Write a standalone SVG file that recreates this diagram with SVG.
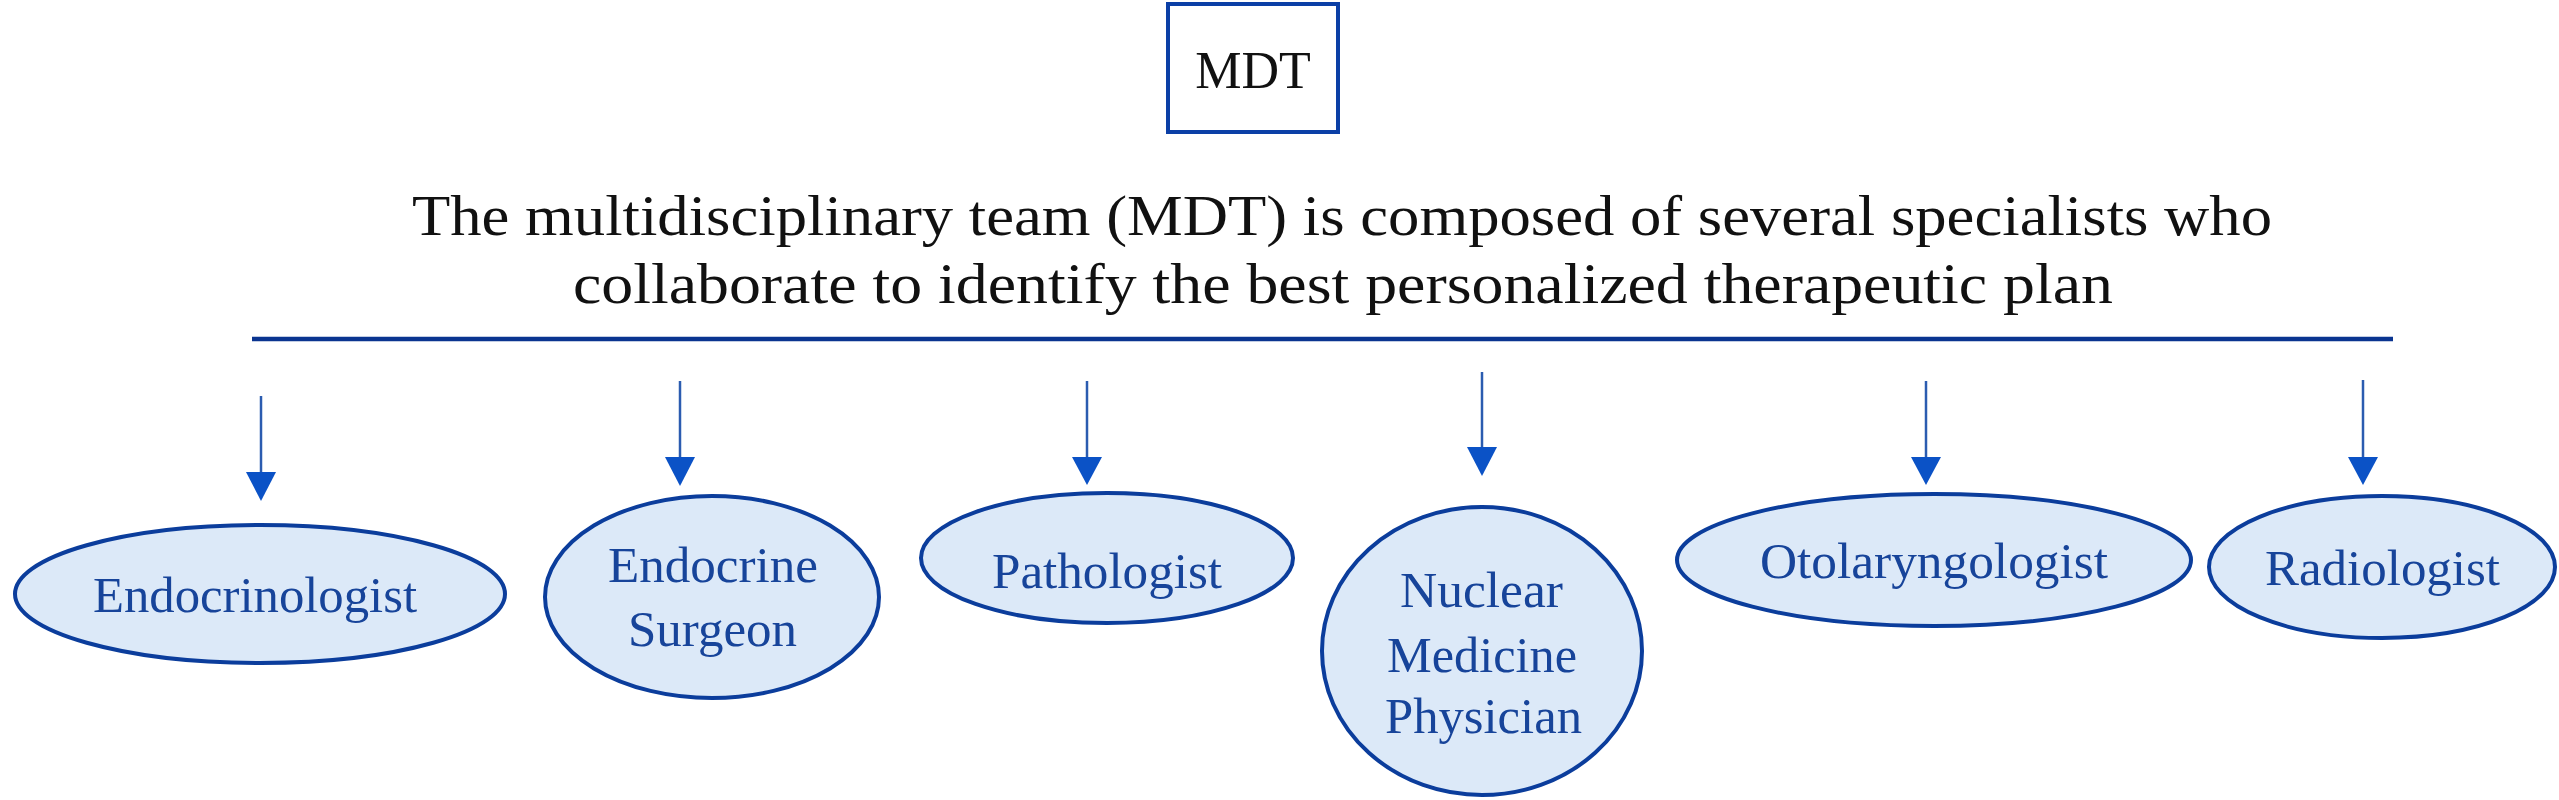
<svg xmlns="http://www.w3.org/2000/svg" width="2559" height="800" viewBox="0 0 2559 800">
<style>
.bg{fill:#ffffff}
.box{fill:#ffffff;stroke:#0b3fa6;stroke-width:4}
.title{font-family:"Liberation Serif","Times New Roman",serif;font-size:58px;fill:#111111}
.mdt{font-family:"Liberation Serif","Times New Roman",serif;font-size:52px;fill:#111111}
.node{fill:#dce9f8;stroke:#0b3d9c;stroke-width:4}
.lbl{font-family:"Liberation Serif","Times New Roman",serif;font-size:50px;fill:#17449a}
.bar{stroke:#0a3490;stroke-width:4.5;stroke-linecap:butt}
.shaft{stroke:#2b5cb0;stroke-width:2.5}
.head{fill:#0b52c6}
</style>
<rect class="bg" x="0" y="0" width="2559" height="800"/>
<g id="mdt-box">
<rect class="box" x="1168" y="4" width="170" height="128"/>
<text class="mdt" x="1253" y="88" text-anchor="middle">MDT</text>
</g>
<g id="title">
<text class="title" x="412" y="235" textLength="1860" lengthAdjust="spacingAndGlyphs">The multidisciplinary team (MDT) is composed of several specialists who</text>
<text class="title" x="573" y="303" textLength="1540" lengthAdjust="spacingAndGlyphs">collaborate to identify the best personalized therapeutic plan</text>
</g>
<g id="connectors">
<line class="bar" x1="252" y1="339" x2="2393" y2="339"/>
<line class="shaft" x1="261" y1="396" x2="261" y2="474"/>
<polygon class="head" points="246,472 276,472 261,501"/>
<line class="shaft" x1="680" y1="381" x2="680" y2="459"/>
<polygon class="head" points="665,457 695,457 680,486"/>
<line class="shaft" x1="1087" y1="381" x2="1087" y2="459"/>
<polygon class="head" points="1072,457 1102,457 1087,485"/>
<line class="shaft" x1="1482" y1="372" x2="1482" y2="449"/>
<polygon class="head" points="1467,447 1497,447 1482,476"/>
<line class="shaft" x1="1926" y1="381" x2="1926" y2="459"/>
<polygon class="head" points="1911,457 1941,457 1926,485"/>
<line class="shaft" x1="2363" y1="380" x2="2363" y2="459"/>
<polygon class="head" points="2348,457 2378,457 2363,485"/>
</g>
<g id="endocrinologist">
<ellipse class="node" cx="260" cy="594" rx="245" ry="69"/>
<text class="lbl" x="93" y="612" textLength="324" lengthAdjust="spacingAndGlyphs">Endocrinologist</text>
</g>
<g id="endocrine-surgeon">
<ellipse class="node" cx="712" cy="597" rx="167" ry="101"/>
<text class="lbl" x="608" y="582" textLength="210" lengthAdjust="spacingAndGlyphs">Endocrine</text>
<text class="lbl" x="628" y="646" textLength="169" lengthAdjust="spacingAndGlyphs">Surgeon</text>
</g>
<g id="pathologist">
<ellipse class="node" cx="1107" cy="558" rx="186" ry="65"/>
<text class="lbl" x="992" y="588" textLength="230" lengthAdjust="spacingAndGlyphs">Pathologist</text>
</g>
<g id="nuclear-medicine-physician">
<ellipse class="node" cx="1482" cy="651" rx="160" ry="144"/>
<text class="lbl" x="1400" y="607" textLength="163" lengthAdjust="spacingAndGlyphs">Nuclear</text>
<text class="lbl" x="1387" y="672" textLength="190" lengthAdjust="spacingAndGlyphs">Medicine</text>
<text class="lbl" x="1385" y="733" textLength="197" lengthAdjust="spacingAndGlyphs">Physician</text>
</g>
<g id="otolaryngologist">
<ellipse class="node" cx="1934" cy="560" rx="257" ry="66"/>
<text class="lbl" x="1760" y="578" textLength="348" lengthAdjust="spacingAndGlyphs">Otolaryngologist</text>
</g>
<g id="radiologist">
<ellipse class="node" cx="2382" cy="567" rx="173" ry="71"/>
<text class="lbl" x="2265" y="585" textLength="235" lengthAdjust="spacingAndGlyphs">Radiologist</text>
</g>
</svg>
